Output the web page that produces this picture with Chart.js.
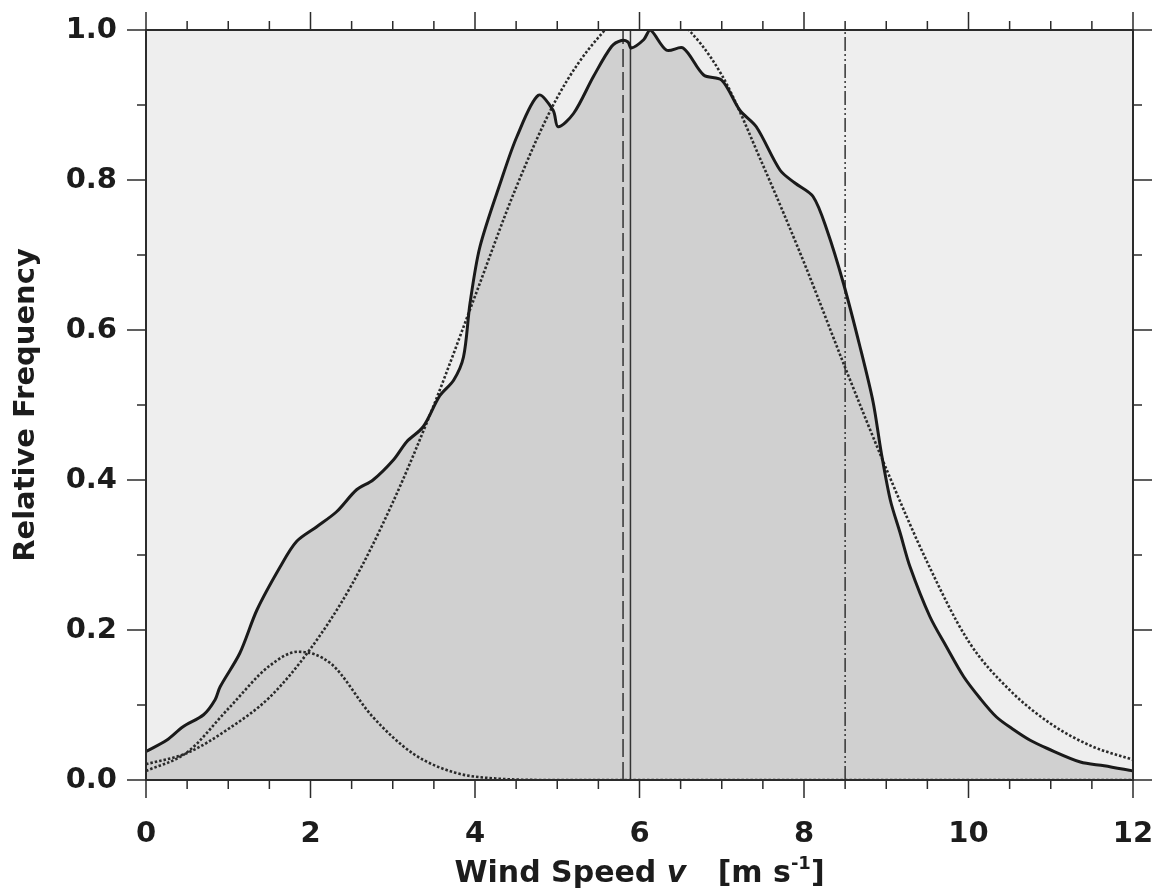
<!DOCTYPE html>
<html>
<head>
<meta charset="utf-8">
<script src="https://cdn.jsdelivr.net/npm/chart.js@4.4.1/dist/chart.umd.min.js"></script>
<style>
    html, body { margin: 0; padding: 0; background: #fff; }
    #wrap { width: 1157px; height: 889px; }
</style>
</head>
<body>
<div id="wrap"><canvas id="WindGraph" width="1157" height="889"></canvas></div>
<script>
const ctx = document.getElementById('WindGraph');

// measured distribution (solid, filled)
const windSpeed = [0.00, 0.25, 0.45, 0.70, 0.84, 0.90, 1.14, 1.35, 1.63, 1.83, 2.08, 2.32, 2.56, 2.76, 3.01, 3.17, 3.37,
    3.57, 3.74, 3.86, 3.94, 4.06, 4.32, 4.51, 4.77, 4.95, 5.01, 5.20, 5.44, 5.66, 5.78, 5.86, 5.90, 6.05, 6.13,
    6.33, 6.53, 6.78, 7.00, 7.22, 7.42, 7.71, 7.89, 8.11, 8.28, 8.48, 8.68, 8.84, 8.94, 9.05, 9.17, 9.29, 9.53,
    9.73, 9.94, 10.14, 10.34, 10.55, 10.75, 10.96, 11.36, 11.65, 12.00];
const relFreq = [0.038, 0.053, 0.071, 0.087, 0.107, 0.124, 0.169, 0.227, 0.284, 0.318, 0.338, 0.358, 0.387, 0.400, 0.427, 0.451, 0.471,
    0.512, 0.533, 0.564, 0.636, 0.711, 0.800, 0.858, 0.913, 0.893, 0.871, 0.889, 0.938, 0.978, 0.986, 0.984, 0.976, 0.987, 1.000,
    0.973, 0.976, 0.940, 0.933, 0.893, 0.871, 0.813, 0.796, 0.778, 0.733, 0.662, 0.578, 0.504, 0.436, 0.373, 0.329, 0.284, 0.218,
    0.178, 0.138, 0.109, 0.084, 0.067, 0.053, 0.042, 0.024, 0.019, 0.012];

// fitted main distribution (dotted)
const fitSpeed = [0, 0.5, 1, 1.5, 2, 2.5, 3, 3.5, 4, 4.5, 5, 5.5, 6, 6.5, 7, 7.5, 8, 8.5, 9, 9.5, 10, 10.5, 11, 11.5, 12];
const fitFreq = [0.021, 0.036, 0.068, 0.11, 0.175, 0.26, 0.37, 0.50, 0.645, 0.79, 0.91, 0.99, 1.035, 1.01, 0.94, 0.82,
    0.69, 0.55, 0.415, 0.29, 0.185, 0.12, 0.075, 0.045, 0.027];

// low wind component (dotted)
const lowSpeed = [0, 0.5, 1.0, 1.5, 1.85, 2.25, 2.75, 3.25, 3.75, 4.25, 5, 12];
const lowFreq = [0.012, 0.037, 0.095, 0.152, 0.171, 0.155, 0.085, 0.035, 0.01, 0.002, 0, 0];

// vertical markers: dashed, solid, dash-dot-dot
const markerSpeeds = [5.8, 5.89, 8.5];

const xTicks = [0, 2, 4, 6, 8, 10, 12];
const yTicks = [0, 0.2, 0.4, 0.6, 0.8, 1.0];

const fontFamily = "'DejaVu Sans', 'Liberation Sans', sans-serif";
const textColor = '#1c1c1c';

const toPoints = (xs, ys) => xs.map((v, i) => ({x: v, y: ys[i]}));
const vline = (v) => [{x: v, y: 0}, {x: v, y: 1}];

const noPadding = (scale) => {
    scale.paddingLeft = 0;
    scale.paddingRight = 0;
    scale.paddingTop = 0;
    scale.paddingBottom = 0;
};

const frame = {
    id: 'frame',
    beforeDraw(chart) {
        const {ctx, chartArea: a} = chart;
        ctx.save();
        ctx.fillStyle = '#eeeeee';
        ctx.fillRect(a.left, a.top, a.right - a.left, a.bottom - a.top);
        ctx.restore();
    },
    afterDatasetsDraw(chart) {
        const {ctx, chartArea: a, scales: {x, y}} = chart;
        ctx.save();
        ctx.strokeStyle = '#2b2b2b';
        ctx.lineWidth = 2;
        ctx.strokeRect(a.left, a.top, a.right - a.left, a.bottom - a.top);
        ctx.lineWidth = 1.5;
        ctx.beginPath();
        for (let i = 0; i <= 24; i++) {
            const px = x.getPixelForValue(i * 0.5);
            const len = i % 4 === 0 ? 18 : 9;
            ctx.moveTo(px, a.bottom); ctx.lineTo(px, a.bottom + len);
            ctx.moveTo(px, a.top); ctx.lineTo(px, a.top - len);
        }
        for (let i = 0; i <= 10; i++) {
            const py = y.getPixelForValue(i * 0.1);
            const len = i % 2 === 0 ? 19 : 9;
            ctx.moveTo(a.left, py); ctx.lineTo(a.left - len, py);
            ctx.moveTo(a.right, py); ctx.lineTo(a.right + len, py);
        }
        ctx.stroke();
        ctx.restore();
    },
    afterDraw(chart) {
        // x axis title with italic v and superscript
        const {ctx, chartArea: a} = chart;
        const parts = [
            {t: 'Wind Speed ', f: 'bold 30px ' + fontFamily, dy: 0},
            {t: 'v', f: 'italic bold 30px ' + fontFamily, dy: 0},
            {t: '   [m s', f: 'bold 30px ' + fontFamily, dy: 0},
            {t: '-1', f: 'bold 18px ' + fontFamily, dy: -13},
            {t: ']', f: 'bold 30px ' + fontFamily, dy: 0}
        ];
        ctx.save();
        ctx.fillStyle = textColor;
        ctx.textBaseline = 'alphabetic';
        ctx.textAlign = 'left';
        let total = 0;
        parts.forEach(p => { ctx.font = p.f; p.w = ctx.measureText(p.t).width; total += p.w; });
        let px = (a.left + a.right) / 2 - total / 2;
        parts.forEach(p => {
            ctx.font = p.f;
            ctx.fillText(p.t, px, 882 + p.dy);
            px += p.w;
        });
        ctx.restore();
    }
};

new Chart(ctx, {
    type: 'line',
    data: {
        datasets: [
            {
                label: 'Measured',
                data: toPoints(windSpeed, relFreq),
                borderColor: '#1a1a1a',
                borderWidth: 3,
                borderJoinStyle: 'round',
                backgroundColor: '#d0d0d0',
                fill: 'origin',
                tension: 0.3,
                pointRadius: 0
            },
            {
                label: 'Fit',
                data: toPoints(fitSpeed, fitFreq),
                borderColor: '#2a2a2a',
                borderWidth: 2.6,
                borderDash: [2.5, 2],
                fill: false,
                cubicInterpolationMode: 'monotone',
                pointRadius: 0
            },
            {
                label: 'Low wind',
                data: toPoints(lowSpeed, lowFreq),
                borderColor: '#2a2a2a',
                borderWidth: 2.6,
                borderDash: [2.5, 2],
                fill: false,
                cubicInterpolationMode: 'monotone',
                pointRadius: 0
            },
            {
                label: 'Marker 1',
                data: vline(markerSpeeds[0]),
                borderColor: '#333',
                borderWidth: 1.5,
                borderDash: [18, 5],
                fill: false,
                pointRadius: 0
            },
            {
                label: 'Marker 2',
                data: vline(markerSpeeds[1]),
                borderColor: '#333',
                borderWidth: 1.5,
                fill: false,
                pointRadius: 0
            },
            {
                label: 'Marker 3',
                data: vline(markerSpeeds[2]),
                borderColor: '#333',
                borderWidth: 1.5,
                borderDash: [14, 3, 2, 3, 2, 3],
                fill: false,
                pointRadius: 0
            }
        ]
    },
    options: {
        responsive: false,
        animation: false,
        events: [],
        layout: { padding: { left: 0, right: 24, top: 30, bottom: 0 } },
        plugins: {
            legend: { display: false },
            tooltip: { enabled: false },
            filler: { drawTime: 'beforeDatasetsDraw' }
        },
        scales: {
            x: {
                type: 'linear',
                min: 0,
                max: 12,
                grid: { display: false, drawTicks: false },
                border: { display: false },
                afterBuildTicks: (scale) => { scale.ticks = xTicks.map(v => ({value: v})); },
                afterFit: (scale) => { scale.height = 109; noPadding(scale); },
                ticks: {
                    autoSkip: false,
                    maxRotation: 0,
                    padding: 37,
                    color: textColor,
                    font: { family: fontFamily, size: 29, weight: 'bold' }
                }
            },
            y: {
                min: 0,
                max: 1,
                grid: { display: false, drawTicks: false },
                border: { display: false },
                afterBuildTicks: (scale) => { scale.ticks = yTicks.map(v => ({value: v})); },
                afterFit: (scale) => { scale.width = 146; noPadding(scale); },
                ticks: {
                    padding: 29,
                    color: textColor,
                    font: { family: fontFamily, size: 29, weight: 'bold' },
                    callback: (v) => v.toFixed(1)
                },
                title: {
                    display: true,
                    text: 'Relative Frequency',
                    color: textColor,
                    padding: { top: 9, bottom: 0 },
                    font: { family: fontFamily, size: 29, weight: 'bold' }
                }
            }
        }
    },
    plugins: [frame]
});
</script>
</body>
</html>
